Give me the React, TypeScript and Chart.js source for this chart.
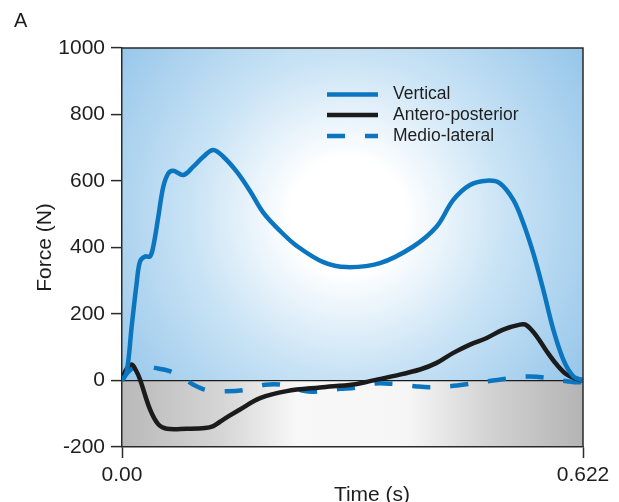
import React, { useEffect, useRef } from "react";
import { Chart, registerables } from "chart.js";

Chart.register(...registerables);

// ---------- data ----------
const verticalTime = [
  0, 0.0063, 0.0131, 0.0198, 0.0243, 0.031, 0.0378, 0.0422, 0.049, 0.0557, 0.0625, 0.0692, 0.0827,
  0.0962, 0.1097, 0.1232, 0.1367, 0.1548, 0.1727, 0.1906, 0.2132, 0.2357, 0.2716, 0.3032, 0.3481,
  0.393, 0.4246, 0.447, 0.4695, 0.4921, 0.51, 0.528, 0.5415, 0.5549, 0.5684, 0.5819, 0.5954, 0.6089, 0.622,
];
const verticalForce = [
  0, 25, 163, 293, 358, 373, 373, 403, 493, 583, 623, 631, 618,
  643, 673, 693, 673, 628, 570, 505, 450, 405, 356, 341, 353,
  403, 463, 543, 588, 601, 593, 543, 473, 383, 273, 153, 63, 13, 0,
];

const apTime = [
  0, 0.0054, 0.0131, 0.0189, 0.0243, 0.0378, 0.049, 0.0603, 0.0873, 0.112, 0.1232, 0.1322, 0.1457,
  0.1592, 0.1862, 0.2222, 0.2671, 0.3117, 0.3346, 0.3656, 0.4021, 0.4246, 0.447, 0.4695, 0.4921,
  0.5144, 0.537, 0.546, 0.5595, 0.573, 0.5865, 0.6, 0.6135, 0.622,
];
const apForce = [
  0, 32, 48, 30, 3, -87, -132, -145, -145, -143, -137, -124, -105,
  -87, -53, -32, -21, -12, -2, 13, 33, 53, 83, 108, 128,
  153, 168, 166, 133, 88, 48, 18, 5, 0,
];

const mlTime = [
  0, 0.0081, 0.0175, 0.031, 0.0486, 0.0621, 0.0742, 0.0863, 0.0958, 0.1147, 0.1417, 0.166, 0.1929,
  0.2199, 0.2469, 0.2644, 0.2941, 0.3144, 0.3413, 0.3643, 0.3953, 0.4155, 0.452, 0.5006, 0.5505,
  0.6004, 0.6112, 0.622,
];
const mlForce = [
  0, 25, 40, 42, 36, 30, 18, 2, -12, -29, -32, -28, -13,
  -14, -32, -33, -25, -22, -9, -10, -17, -20, -15, 0, 12,
  -2, -5, -5,
];

const seriesLabels = ["Vertical", "Antero-posterior", "Medio-lateral"];
const yTickValues = [-200, 0, 200, 400, 600, 800, 1000];
const xTickValues = [0, 0.622];
const xTickLabels = ["0.00", "0.622"];
const xTitle = "Time (s)";
const yTitle = "Force (N)";
const panelLetter = "A";

// ---------- style ----------
const FONT = "'Liberation Sans', Arial, Helvetica, sans-serif";
const BLUE = "#0b76bf";
const BLACK = "#1b1b1b";
const AXIS = "#2a2a2a";
const TEXT = "#1e1e1e";

Chart.defaults.font.family = FONT;

const pts = (t: number[], v: number[]) => t.map((x, i) => ({ x, y: v[i] }));

const backgroundPlugin = {
  id: "bgPanels",
  beforeDraw(chart: any) {
    const { ctx, chartArea: a, scales } = chart;
    const y0 = scales.y.getPixelForValue(0);
    ctx.save();
    const cx = a.left + a.width * 0.49;
    const cy = a.top + a.height * 0.42;
    const g = ctx.createRadialGradient(cx, cy, 0, cx, cy, a.width * 0.62);
    g.addColorStop(0, "#ffffff");
    g.addColorStop(0.2, "#ffffff");
    g.addColorStop(0.55, "#c9e3f5");
    g.addColorStop(1, "#96c6ea");
    ctx.fillStyle = g;
    ctx.fillRect(a.left, a.top, a.width, y0 - a.top);
    const h = ctx.createLinearGradient(a.left, 0, a.right, 0);
    h.addColorStop(0, "#b9b9b9");
    h.addColorStop(0.22, "#d6d6d6");
    h.addColorStop(0.38, "#f8f8f8");
    h.addColorStop(0.62, "#f6f6f6");
    h.addColorStop(0.8, "#d2d2d2");
    h.addColorStop(1, "#b4b4b4");
    ctx.fillStyle = h;
    ctx.fillRect(a.left, y0, a.width, a.bottom - y0);
    ctx.restore();
  },
};

const overlayPlugin = {
  id: "overlay",
  afterDraw(chart: any) {
    const { ctx, chartArea: a } = chart;
    ctx.save();
    // top & right frame
    ctx.strokeStyle = AXIS;
    ctx.lineWidth = 1.5;
    ctx.beginPath();
    ctx.moveTo(a.left, a.top);
    ctx.lineTo(a.right, a.top);
    ctx.lineTo(a.right, a.bottom);
    ctx.stroke();

    // legend
    const rows = [a.top + 46.5, a.top + 67, a.top + 88];
    chart.data.datasets.forEach((ds: any, i: number) => {
      const y = rows[i];
      ctx.strokeStyle = ds.borderColor;
      ctx.lineWidth = ds.borderWidth;
      ctx.setLineDash(ds.borderDash || []);
      ctx.beginPath();
      ctx.moveTo(a.left + 205, y);
      ctx.lineTo(a.left + 256, y);
      ctx.stroke();
      ctx.setLineDash([]);
      ctx.fillStyle = TEXT;
      ctx.font = `17.5px ${FONT}`;
      ctx.textBaseline = "middle";
      ctx.textAlign = "left";
      ctx.fillText(ds.label, a.left + 271, y);
    });

    // x title
    ctx.fillStyle = TEXT;
    ctx.font = `21px ${FONT}`;
    ctx.textAlign = "center";
    ctx.textBaseline = "alphabetic";
    ctx.fillText(xTitle, a.left + 250, 501);

    // panel letter
    ctx.font = `20px ${FONT}`;
    ctx.textAlign = "left";
    ctx.fillText(panelLetter, 14, 27);
    ctx.restore();
  },
};

export default function App() {
  const ref = useRef<HTMLCanvasElement | null>(null);

  useEffect(() => {
    if (!ref.current) return;
    const chart = new Chart(ref.current, {
      type: "line",
      data: {
        datasets: [
          {
            label: seriesLabels[0],
            data: pts(verticalTime, verticalForce),
            borderColor: BLUE,
            borderWidth: 4.5,
            pointRadius: 0,
            tension: 0.35,
          },
          {
            label: seriesLabels[1],
            data: pts(apTime, apForce),
            borderColor: BLACK,
            borderWidth: 4.5,
            pointRadius: 0,
            tension: 0.35,
          },
          {
            label: seriesLabels[2],
            data: pts(mlTime, mlForce),
            borderColor: BLUE,
            borderWidth: 4.5,
            borderDash: [18, 20],
            pointRadius: 0,
            tension: 0.35,
          },
        ],
      },
      options: {
        animation: false,
        responsive: true,
        maintainAspectRatio: false,
        layout: { padding: { top: 48, right: 36, bottom: 0, left: 0 } },
        plugins: {
          legend: { display: false },
          tooltip: { enabled: false },
        },
        scales: {
          x: {
            type: "linear",
            min: 0,
            max: 0.622,
            afterBuildTicks: (s: any) => {
              s.ticks = xTickValues.map((v) => ({ value: v }));
            },
            afterFit: (s: any) => {
              s.height = 55;
            },
            ticks: {
              callback: (_v: any, i: number) => xTickLabels[i],
              font: { size: 21 },
              color: TEXT,
              padding: 5,
              maxRotation: 0,
              autoSkip: false,
            },
            grid: {
              drawOnChartArea: false,
              tickLength: 11,
              tickColor: AXIS,
              tickWidth: 1.5,
            },
            border: { display: true, color: AXIS, width: 1.5 },
          },
          y: {
            type: "linear",
            min: -200,
            max: 1000,
            afterBuildTicks: (s: any) => {
              s.ticks = yTickValues.map((v) => ({ value: v }));
            },
            afterFit: (s: any) => {
              s.width = 122;
            },
            ticks: {
              callback: (v: any) => String(v),
              font: { size: 21 },
              color: TEXT,
              padding: 6,
            },
            grid: {
              color: (c: any) => (c.tick && c.tick.value === 0 ? BLACK : "rgba(0,0,0,0)"),
              lineWidth: 1.2,
              tickLength: 11,
              tickColor: AXIS,
              tickWidth: 1.5,
            },
            border: { display: true, color: AXIS, width: 1.5 },
            title: {
              display: true,
              text: yTitle,
              font: { size: 21 },
              color: TEXT,
              padding: { top: 33, bottom: 0 },
            },
          },
        },
      },
      plugins: [backgroundPlugin, overlayPlugin],
    } as any);
    return () => chart.destroy();
  }, []);

  return (
    <div style={{ position: "fixed", left: 0, top: 0, width: 619, height: 502, background: "#fff" }}>
      <canvas ref={ref} />
    </div>
  );
}
